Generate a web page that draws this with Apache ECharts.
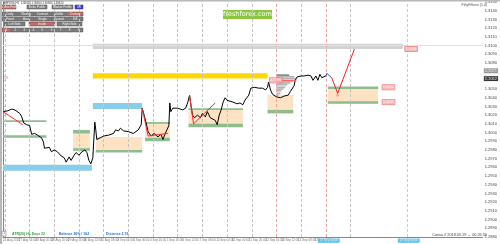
<!DOCTYPE html>
<html><head><meta charset="utf-8">
<script src="https://cdn.jsdelivr.net/npm/echarts@6.0.0/dist/echarts.min.js"></script>
<style>html,body{margin:0;padding:0;background:#fff;}#c{width:500px;height:244px;}</style>
</head><body><div id="c"></div>
<script>
// ---- data: [bar, price] ----
const priceSeries = [[0,1.3024],[2,1.3026],[5,1.3025],[7,1.3024],[9,1.3027],[12,1.3026],[14,1.3024],[17,1.3022],[19,1.3018],[21,1.3011],[23,1.3013],[24,1.3009],[26,1.3010],[27,1.3008],[29,1.2998],[32,1.2999],[35,1.2997],[37,1.2999],[39,1.2994],[41,1.2989],[42,1.2982],[44,1.2980],[47,1.2983],[49,1.2978],[52,1.2980],[55,1.2978],[57,1.2977],[59,1.2973],[62,1.2971],[64,1.2966],[67,1.2972],[69,1.2968],[72,1.2974],[74,1.2977],[77,1.2974],[80,1.2978],[83,1.2980],[85,1.2977],[87,1.2968],[89,1.2964],[91,1.2971],[93,1.3012],[94,1.3003],[95,1.2992],[97,1.2994],[102,1.2996],[107,1.2997],[112,1.2999],[114,1.3003],[117,1.3002],[119,1.3005],[122,1.3002],[127,1.3001],[132,1.2999],[137,1.3003],[139,1.3003],[140,1.3009],[141,1.3028],[143,1.3020],[145,1.3011],[147,1.3001],[150,1.2996],[153,1.2999],[157,1.2995],[160,1.2998],[162,1.2992],[164,1.2998],[166,1.3003],[168,1.3008],[169,1.3034],[170,1.3024],[172,1.3028],[177,1.3028],[182,1.3026],[185,1.3028],[187,1.3034],[189,1.3043],[190,1.3034],[192,1.3020],[194,1.3017],[197,1.3020],[200,1.3017],[202,1.3022],[205,1.3018],[207,1.3024],[210,1.3017],[212,1.3019],[215,1.3014],[217,1.3009],[219,1.3020],[221,1.3026],[223,1.3035],[225,1.3040],[227,1.3037],[230,1.3036],[233,1.3035],[237,1.3033],[240,1.3034],[243,1.3032],[245,1.3037],[247,1.3035],[249,1.3043],[251,1.3051],[255,1.3052],[259,1.3051],[263,1.3051],[266,1.3049],[268,1.3052],[269,1.3058],[271,1.3049],[273,1.3044],[277,1.3041],[281,1.3040],[285,1.3042],[289,1.3043],[291,1.3047],[293,1.3049],[295,1.3054],[296,1.3060],[298,1.3064],[302,1.3065],[305,1.3065],[307,1.3063],[309,1.3066],[312,1.3065],[314,1.3060],[317,1.3065],[319,1.3060],[321,1.3067],[323,1.3063],[325,1.3064],[327,1.3065]];
const forecastBlue = [[327,1.3065],[328,1.3068],[333,1.3063]];
const forecastRed = [[333,1.3063],[339,1.3045],[356,1.3096]];
const forecastPivot = [[339,1.3043]];
const swingA = [[0,1.3024],[20,1.3009]];
const swingB = [[141,1.3028],[147,1.2996],[167,1.2999]];
const swingC = [[189,1.3043],[193,1.3010],[215,1.3034]];
const pocLine = [[274,1.3060],[297,1.3060]];
// zones: [barFrom, barTo, priceHigh, priceLow]
const grayZone = [[91,405,1.3102,1.3096]];
const yellowZone = [[91,268,1.3068,1.3062]];
const blueZones = [[91,141,1.3034,1.3027],[0,90,1.2963,1.2956]];
const peachZones = [[71,88,1.3003,1.2980],[94,141,1.2995,1.2980],[144,169,1.3011,1.2992],[188,243,1.3027,1.3008],[268,294,1.3043,1.3024],[329,380,1.3052,1.3033]];
const greenZones = [[0,44,1.3014,1.3012],[0,44,1.2997,1.2994],[71,88,1.3003,1.2999],[71,88,1.2982,1.2979],[94,141,1.2980,1.2977],[144,169,1.3012,1.3010],[144,169,1.2994,1.2990],[188,243,1.3028,1.3026],[188,243,1.3010,1.3006],[268,294,1.3026,1.3022],[329,380,1.3053,1.3050],[329,380,1.3036,1.3033]];
// volume profile
const profileStart = 277;
const profileLevels = [1.3066,1.3064,1.3062,1.3059,1.3057,1.3055,1.3052,1.3050,1.3048,1.3045,1.3043];
const profileLengths = [13,18,20,17,14,11,9,7,5,4,2];
// tags
const tagBars = [407,384,384,270];
const tagPrices = [1.3096,1.3052,1.3035,1.3060];
const askPrice = 1.3071, bidPrice = 1.3062;
// axes
const gridBars = [2,27,52,77,102,127,152,177,202,227,252,277,302,327,352];
const nowBar = 410;
const xTickBars = [0,16,33,49,66,82,99,116,132,149,166,182,199,216,232,249,266,282,299,316];
const xLabels = ["24 Aug 2018","27 Aug 04:00","28 Aug 00:00","28 Aug 20:00","29 Aug 16:00","30 Aug 12:00","31 Aug 08:00","3 Sep 04:00","4 Sep 00:00","4 Sep 20:00","5 Sep 16:00","6 Sep 12:00","7 Sep 08:00","10 Sep 04:00","11 Sep 00:00","11 Sep 20:00","12 Sep 16:00","13 Sep 12:00","14 Sep 08:00","17 Sep 04:00"];
const xHighlightBars = [319,400];
const xHighlightLabels = ["18 Sep 04:00","19 Sep 00:00"];
const yMin = 1.2880, yMax = 1.3150, yStep = 0.0010;

const chart = echarts.init(document.getElementById('c'), null, {renderer:'canvas'});
const area = (z, color) => z.map(r => [{coord:[r[0], r[2]], itemStyle:{color}}, {coord:[r[1], r[3]]}]);
const zoneSeries = (name, zones, color, zz) => ({type:'line', name, data:[], z:zz, silent:true,
  markArea:{silent:true, itemStyle:{color}, data: area(zones, color)}});
const lineS = (data, color, w, zz) => ({type:'line', data, symbol:'none', z:zz, silent:true, lineStyle:{color, width:w}, animation:false});

const profileAreas = profileLevels.map((p,i) => [{coord:[profileStart, p+0.0001]}, {coord:[profileStart+profileLengths[i], p-0.0001]}]);

const series = [
  zoneSeries('peach', peachZones, '#fde2c4', 1),
  zoneSeries('green', greenZones, '#8fbc8f', 2),
  zoneSeries('gray', grayZone, '#d3d3d3', 2),
  zoneSeries('yellow', yellowZone, '#ffd700', 2),
  zoneSeries('blue', blueZones, '#87ceeb', 2),
  {type:'line', data:[], z:3, silent:true, markArea:{silent:true, itemStyle:{color:'#b5b5b5'}, data: profileAreas}},
  {type:'line', data:[], z:1, silent:true, markLine:{silent:true, symbol:'none', label:{show:false}, animation:false,
    data: [
      ...gridBars.map(b => ({xAxis:b, lineStyle:{color:(b===277||b===327)?'#e8a6a6':'#c4c4c4', type:[3,2], width:1}})),
      {xAxis:nowBar, lineStyle:{color:'#a8d8ee', type:[3,2], width:1}},
      {yAxis:askPrice, lineStyle:{color:'#a8a8a8', type:[4,2,1,2], width:1}},
      {yAxis:bidPrice, lineStyle:{color:'#e2e2e2', type:'solid', width:1}}
    ]}},
  lineS([[profileStart, 1.3066],[profileStart+13,1.3066]], '#777', 1, 4),
  lineS(priceSeries, '#000', 1, 5),
  lineS(swingA, '#ff2a2a', 1, 6),
  lineS(swingB, '#ff2a2a', 1, 6),
  lineS(swingC, '#ff2a2a', 1, 6),
  lineS(pocLine, '#ff5050', 1, 6),
  lineS(forecastBlue, '#2f4fc8', 1, 6),
  lineS(forecastRed, '#ff1a1a', 1, 6),
  {type:'scatter', data:forecastPivot, symbolSize:3, z:7, itemStyle:{color:'#f49a9a'}, silent:true},
  {type:'scatter', z:8, silent:true, symbolSize:0.1, itemStyle:{color:'transparent'},
    data: tagBars.map((b,i)=>[b, tagPrices[i]]),
    label:{show:true, position:'right', distance:0, fontSize:3.5, color:'#fff', backgroundColor:'#f7a8a8',
      borderColor:'#e86a6a', borderWidth:0.5, padding:[0.5,1], formatter:p=>p.value[1].toFixed(4)}},
  {type:'scatter', z:8, silent:true, symbolSize:0.1, itemStyle:{color:'transparent'},
    data: [{value:[486, askPrice], label:{backgroundColor:'#8a8a8a'}}, {value:[486, bidPrice], label:{backgroundColor:'#111'}}],
    label:{show:true, position:'right', distance:1, fontSize:4, color:'#fff', padding:[0.5,1],
      formatter:p=>p.value[1].toFixed(4)}},
  {type:'scatter', z:8, silent:true, symbolSize:0.1, itemStyle:{color:'transparent'},
    data: xTickBars.map(b=>[b, yMin]),
    label:{show:true, position:[0,2], fontSize:3, color:'#555', formatter:p=>xLabels[p.dataIndex]}},
  {type:'scatter', z:8, silent:true, symbolSize:0.1, itemStyle:{color:'transparent'},
    data: xHighlightBars.map(b=>[b, yMin]),
    label:{show:true, position:[0,1.5], fontSize:3, color:'#fff', backgroundColor:'#3db4ee', padding:[0.7,2], formatter:p=>xHighlightLabels[p.dataIndex]}}
];

function btn(x,y,w,h,text,fill){
  return {type:'group', children:[
    {type:'rect', shape:{x,y,width:w,height:h}, style:{fill, stroke:'#4a4a4a', lineWidth:0.5}},
    {type:'text', x:x+w/2, y:y+h/2, style:{text, fill:'#eee', font:'3px sans-serif', align:'center', verticalAlign:'middle'}}
  ]};
}
const G='#7d7d7d', R='#c86a6a', B='#3636d8';
const toolbar = [
  btn(2,5,14,4,'Volume Profile',R), btn(27,5,20,4,'Delta Profile',G), btn(52,5,21,4,'Market Profile',G), btn(75,5,8,4,'0.0',B),
  ...['Daily','Weekly','Contract','Visible','Custom'].map((t,i)=>btn(2+i*16.3,12,15.8,4,t,i===4?R:G)),
  ...['Fixed','Area','Single','Spread','Diff'].map((t,i)=>btn(2+i*16.3,17,15.8,4,t,G)),
  btn(4,22,21,4,'Left Side',G), btn(29,22,26,4,'Inside',R), btn(57,22,25,4,'Right Side',G),
  ...['1','2','3','4','5','6','7','8','9'].map((t,i)=>btn(2+i*9.05,28,8.5,4,t,i===0?R:G))
];

chart.setOption({
  animation:false,
  backgroundColor:'#fff',
  grid:{left:3, right:11, top:2, bottom:7, containLabel:false},
  xAxis:{type:'value', min:0, max:486, axisLabel:{show:false}, axisTick:{show:false}, splitLine:{show:false},
    axisLine:{lineStyle:{color:'#888', width:1}}},
  yAxis:{type:'value', position:'right', min:yMin, max:yMax, interval:yStep, scale:true,
    axisLabel:{fontSize:4, color:'#444', margin:2, formatter:v=>v.toFixed(4)},
    axisTick:{show:true, length:1.5, lineStyle:{color:'#888'}},
    axisLine:{show:true, lineStyle:{color:'#888', width:1}}, splitLine:{show:false}},
  series,
  graphic:[
    {type:'rect', shape:{x:0,y:0,width:2,height:244}, style:{fill:'#b8b8b8'}, z:10},
    {type:'rect', shape:{x:0,y:0,width:500,height:1.5}, style:{fill:'#b8b8b8'}, z:10},
    {type:'text', x:3, y:2.2, style:{text:'GBPUSD,H1  1.30620 1.30650 1.30600 1.30620', fill:'#333', font:'2.8px sans-serif'}, z:11},
    ...toolbar.map(g=>Object.assign(g,{z:11})),
    {type:'group', z:11, children:[
      {type:'rect', shape:{x:223,y:10,width:49,height:9}, style:{fill:'#8cc63e'}},
      {type:'text', x:247.5, y:14.7, style:{text:'freshforex.com', fill:'#fff', font:'6.5px "DejaVu Sans", sans-serif', align:'center', verticalAlign:'middle'}}
    ]},
    {type:'text', x:487, y:3, z:11, style:{text:'FiftyFifteen (1.0)', fill:'#555', font:'3.5px sans-serif', align:'right'}},
    {type:'text', x:4, y:76, z:11, style:{text:'58', fill:'#f08080', font:'3.5px sans-serif'}},
    {type:'text', x:485, y:75, z:11, style:{text:'3', fill:'#f08080', font:'3.5px sans-serif'}},
    {type:'rect', z:11, shape:{x:2,y:231,width:4,height:5}, style:{fill:'#fff', stroke:'#777', lineWidth:0.5}},
    {type:'text', z:11, x:4, y:231.8, style:{text:'1', fill:'#333', font:'3px sans-serif', align:'center'}},
    {type:'text', z:11, x:12, y:232, style:{text:'ATR(20) HL Days 22', fill:'#3c9a3c', font:'bold 3.5px sans-serif'}},
    {type:'text', z:11, x:59, y:232, style:{text:'Balance 26% / 162', fill:'#2a6fd6', font:'bold 3.5px sans-serif'}},
    {type:'text', z:11, x:106, y:232, style:{text:'Distance 2.76', fill:'#2a6fd6', font:'bold 3.5px sans-serif'}},
    {type:'text', z:11, x:487, y:232.5, style:{text:'Свеча // 2018.09.19 → 00:26:56', fill:'#444', font:'3.8px sans-serif', align:'right'}}
  ]
});
</script></body></html>
